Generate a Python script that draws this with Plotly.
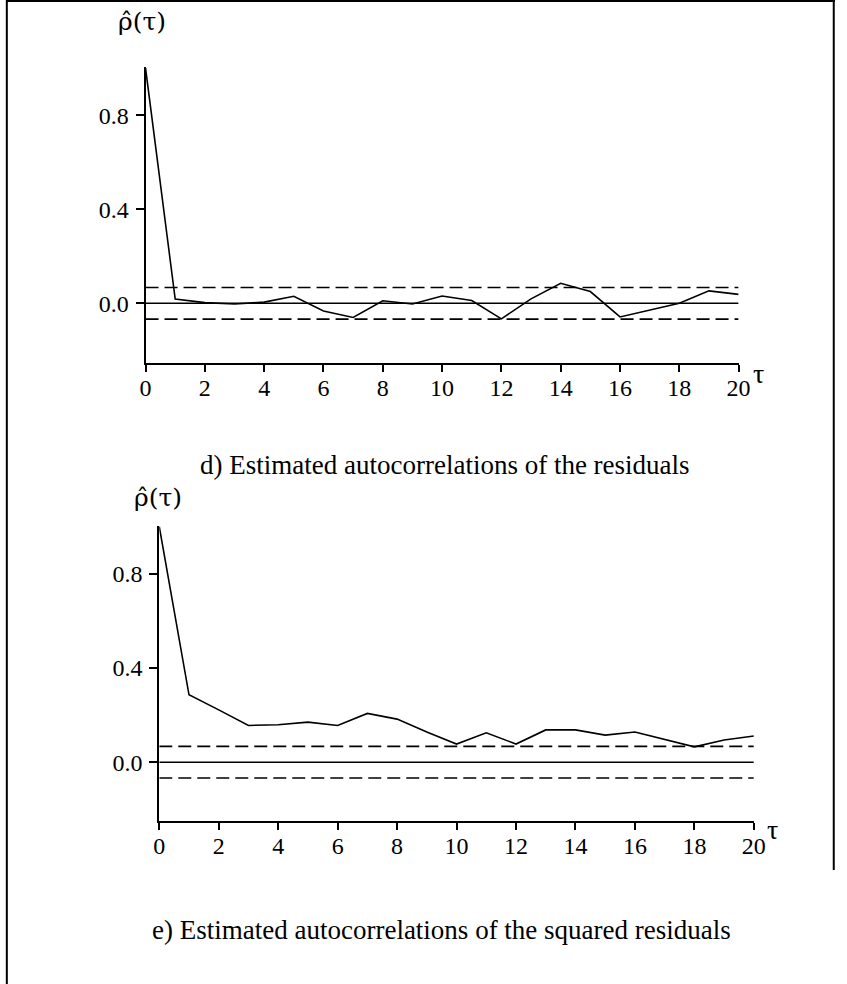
import plotly.graph_objects as go

# ---- data ----
lags = list(range(0, 21))
acf_resid = [1.0, 0.018, 0.003, -0.003, 0.005, 0.030, -0.033, -0.060, 0.011, -0.003,
             0.031, 0.012, -0.066, 0.019, 0.085, 0.050, -0.058, -0.028, 0.0, 0.053, 0.038]
acf_sq_resid = [1.0, 0.286, 0.222, 0.156, 0.159, 0.170, 0.156, 0.207, 0.183, 0.128,
                0.077, 0.125, 0.077, 0.137, 0.137, 0.115, 0.128, 0.096, 0.065, 0.094, 0.111]
conf_band = 0.067
x_ticks = list(range(0, 21, 2))
y_ticks = [0.0, 0.4, 0.8]
y_ticktext = ["0.0", "0.4", "0.8"]
title_d = "d) Estimated autocorrelations of the residuals"
title_e = "e) Estimated autocorrelations of the squared residuals"
ylab = "\u03c1\u0302(\u03c4)"
xlab = "\u03c4"

W, H = 847, 984
FONT = "Liberation Serif, Times New Roman, serif"


def px(x):
    # horizontal position (in target-picture pixels) -> paper fraction
    return min(max((x - 6) / 0.977 / W, 0), 1)


def py(y):
    return 1 - y / H


fig = go.Figure()

panels = [
    dict(vals=acf_resid, xa="x", ya="y", xdom=[px(145.3), px(737.3)], ydom=[py(362.7), py(67)]),
    dict(vals=acf_sq_resid, xa="x2", ya="y2", xdom=[px(159), px(752.5)], ydom=[py(821.3), py(525.5)]),
]

for p in panels:
    fig.add_trace(go.Scatter(x=lags, y=p["vals"], mode="lines", xaxis=p["xa"], yaxis=p["ya"],
                             line=dict(color="black", width=1.6), cliponaxis=False, showlegend=False))
    fig.add_trace(go.Scatter(x=[lags[0], lags[-1]], y=[0, 0], mode="lines", xaxis=p["xa"], yaxis=p["ya"],
                             line=dict(color="black", width=1.6), cliponaxis=False, showlegend=False))
    for b in (conf_band, -conf_band):
        fig.add_trace(go.Scatter(x=[lags[0], lags[-1]], y=[b, b], mode="lines", xaxis=p["xa"], yaxis=p["ya"],
                                 line=dict(color="black", width=1.6, dash="13px,6px"),
                                 cliponaxis=False, showlegend=False))

axis_common_x = dict(range=[0, 20], showline=True, linecolor="black", linewidth=2, ticks="outside",
                     ticklen=7, tickwidth=1.5, tickcolor="black", tickvals=x_ticks, showgrid=False,
                     zeroline=False, ticklabelstandoff=-5,
                     tickfont=dict(family=FONT, size=24, color="black"))
axis_common_y = dict(showline=True, linecolor="black", linewidth=2, ticks="outside",
                     ticklen=8, tickwidth=1.5, tickcolor="black", tickvals=y_ticks, ticktext=y_ticktext,
                     showgrid=False, zeroline=False, ticklabelstandoff=2,
                     tickfont=dict(family=FONT, size=24, color="black"))

fig.update_layout(
    width=W, height=H, autosize=False, margin=dict(l=0, r=0, t=0, b=0),
    paper_bgcolor="white", plot_bgcolor="white",
    xaxis=dict(domain=panels[0]["xdom"], anchor="y", **axis_common_x),
    yaxis=dict(domain=panels[0]["ydom"], anchor="x", range=[-0.2525, 1.005], **axis_common_y),
    xaxis2=dict(domain=panels[1]["xdom"], anchor="y2", **axis_common_x),
    yaxis2=dict(domain=panels[1]["ydom"], anchor="x2", range=[-0.251, 1.005], **axis_common_y),
)

ann = [
    dict(text=ylab, x=px(142), y=py(22), size=25, family="DejaVu Serif"),
    dict(text=ylab, x=px(158), y=py(497), size=25, family="DejaVu Serif"),
    dict(text=xlab, x=px(757), y=py(373), size=28, family=FONT),
    dict(text=xlab, x=px(771), y=py(829), size=28, family=FONT),
    dict(text=title_d, x=px(444), y=py(465), size=27, family=FONT),
    dict(text=title_e, x=px(441), y=py(930), size=27, family=FONT),
]
for a in ann:
    fig.add_annotation(text=a["text"], x=a["x"], y=a["y"], xref="paper", yref="paper",
                       xanchor="center", yanchor="middle", showarrow=False,
                       font=dict(family=a["family"], size=a["size"], color="black"))

# frame
fig.add_shape(type="line", xref="paper", yref="paper", x0=0.001, x1=0.001, y0=0, y1=1,
              line=dict(color="black", width=2))
fig.add_shape(type="line", xref="paper", yref="paper", x0=0, x1=1, y0=py(1), y1=py(1),
              line=dict(color="black", width=2))
fig.add_shape(type="line", xref="paper", yref="paper", x0=0.9985, x1=0.9985, y0=py(1), y1=py(870),
              line=dict(color="black", width=2))

fig.write_html(
    "out.html",
    config={"displayModeBar": False, "responsive": False},
    post_script="document.documentElement.style.overflow='hidden';"
                "document.body.style.margin='0';document.body.style.overflow='hidden';",
)
